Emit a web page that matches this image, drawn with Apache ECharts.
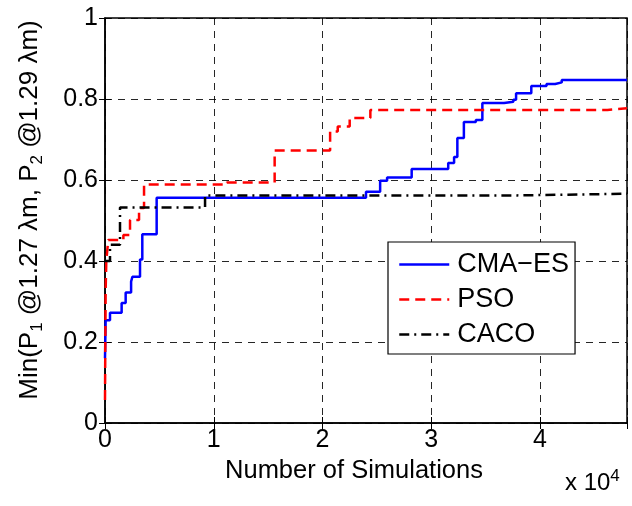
<!DOCTYPE html>
<html>
<head>
<meta charset="utf-8">
<script src="https://cdn.jsdelivr.net/npm/echarts@6/dist/echarts.min.js"></script>
<style>
  html, body { margin: 0; padding: 0; background: #fff; }
  #chart { width: 632px; height: 506px; }
</style>
</head>
<body>
<div id="chart"></div>
<script>
// Best-so-far objective vs. number of simulations for three optimisers
const xTicks = [0, 10000, 20000, 30000, 40000];
const yTicks = [0, 0.2, 0.4, 0.6, 0.8, 1];

const cmaesX = [0, 60, 460, 1530, 1900, 2400, 2520, 3220, 3430, 4750, 24000, 25300, 25940, 28200, 31560, 32100, 32400, 33000, 34100, 34700, 36700, 37550, 37800, 39200, 40600, 41400, 42000, 48000];
const cmaesY = [0.16, 0.254, 0.272, 0.296, 0.322, 0.349, 0.361, 0.404, 0.466, 0.556, 0.571, 0.598, 0.606, 0.627, 0.642, 0.657, 0.704, 0.743, 0.748, 0.790, 0.793, 0.798, 0.814, 0.832, 0.837, 0.841, 0.847, 0.847];

const psoX = [0, 30, 60, 120, 300, 1690, 2300, 3130, 3590, 11200, 15600, 20700, 21400, 22500, 24400, 46200, 48000];
const psoY = [0.057, 0.20, 0.33, 0.40, 0.452, 0.464, 0.501, 0.531, 0.589, 0.594, 0.673, 0.72, 0.732, 0.753, 0.773, 0.777, 0.777];

const cacoX = [0, 460, 1380, 9200, 37900, 48000];
const cacoY = [0.40, 0.44, 0.532, 0.562, 0.566, 0.567];

const pairs = (xs, ys) => xs.map((x, i) => [x, ys[i]]);

const FONT = 'Liberation Sans, Arial, Helvetica, sans-serif';
const chart = echarts.init(document.getElementById('chart'), null, { renderer: 'canvas' });

const gridLine = { show: true, lineStyle: { color: '#000', width: 1, type: [7, 6], opacity: 0.85 } };
const innerTick = { show: true, inside: true, length: 6, lineStyle: { color: '#000' } };

chart.setOption({
  animation: false,
  backgroundColor: '#fff',
  textStyle: { fontFamily: FONT },
  grid: { left: 105, right: 5, top: 18, bottom: 83, show: true, borderColor: '#000', borderWidth: 1.5, backgroundColor: 'transparent' },
  xAxis: [{
    type: 'value', min: 0, max: 48000, interval: 10000,
    axisLine: { show: true, lineStyle: { color: '#000', width: 1.5 } },
    axisTick: innerTick,
    axisLabel: {
      color: '#000', fontSize: 25, fontFamily: FONT, margin: 5,
      formatter: v => (xTicks.indexOf(v) >= 0 ? String(v / 10000) : '')
    },
    splitLine: gridLine,
    name: 'Number of Simulations', nameLocation: 'middle', nameGap: 30,
    nameTextStyle: { color: '#000', fontSize: 25.5, fontFamily: FONT, padding: [0, 24, 0, 0] }
  }, {
    type: 'value', min: 0, max: 48000, interval: 10000, position: 'top',
    axisLine: { show: false }, axisLabel: { show: false }, splitLine: { show: false },
    axisTick: innerTick
  }],
  yAxis: [{
    type: 'value', min: 0, max: 1, interval: 0.2,
    axisLine: { show: true, lineStyle: { color: '#000', width: 1.5 } },
    axisTick: innerTick,
    axisLabel: {
      color: '#000', fontSize: 25, fontFamily: FONT, margin: 7,
      formatter: v => (yTicks.indexOf(Math.round(v * 10) / 10) >= 0 ? String(Math.round(v * 10) / 10) : '')
    },
    splitLine: gridLine
  }, {
    type: 'value', min: 0, max: 1, interval: 0.2, position: 'right',
    axisLine: { show: false }, axisLabel: { show: false }, splitLine: { show: false },
    axisTick: innerTick
  }],
  legend: {
    orient: 'vertical', left: 388, top: 242,
    backgroundColor: '#fff', borderColor: '#000', borderWidth: 1.2,
    padding: [9, 6, 6, 10], itemGap: 8, itemWidth: 50, itemHeight: 26,
    itemStyle: { opacity: 0 },
    lineStyle: { width: 2.5 },
    textStyle: { color: '#000', fontSize: 27, fontFamily: FONT, padding: [0, 0, 0, 3] },
    data: ['CMA−ES', 'PSO', 'CACO']
  },
  graphic: [{
    // vertical axis title with subscripts
    type: 'text', x: 30, y: 210, rotation: Math.PI / 2,
    style: {
      text: 'Min(P{s|1} @1.27 λm, P{s|2} @1.29 λm)',
      fill: '#000', font: '26px ' + FONT, align: 'center', verticalAlign: 'middle',
      rich: { s: { fontSize: 17, fontFamily: FONT, fill: '#000', verticalAlign: 'bottom', padding: [15, 0, 0, 0] } }
    }
  }, {
    // axis multiplier
    type: 'text', left: 565, top: 468,
    style: {
      text: 'x 10{p|4}', fill: '#000', font: '24px ' + FONT,
      rich: { p: { fontSize: 17, fontFamily: FONT, fill: '#000', verticalAlign: 'top', padding: [0, 0, 14, 0] } }
    }
  }],
  series: [{
    name: 'CMA−ES', type: 'line', step: 'end', symbol: 'none', data: pairs(cmaesX, cmaesY),
    lineStyle: { color: '#0000ff', width: 2.5 }, itemStyle: { color: '#0000ff' }, z: 3
  }, {
    name: 'PSO', type: 'line', step: 'end', symbol: 'none', data: pairs(psoX, psoY),
    lineStyle: { color: '#ff0000', width: 2.5, type: [10, 6] }, itemStyle: { color: '#ff0000' }, z: 4
  }, {
    name: 'CACO', type: 'line', step: 'end', symbol: 'none', data: pairs(cacoX, cacoY),
    lineStyle: { color: '#000', width: 2.5, type: [10, 5, 2, 5] }, itemStyle: { color: '#000' }, z: 5
  }]
});
</script>
</body>
</html>
